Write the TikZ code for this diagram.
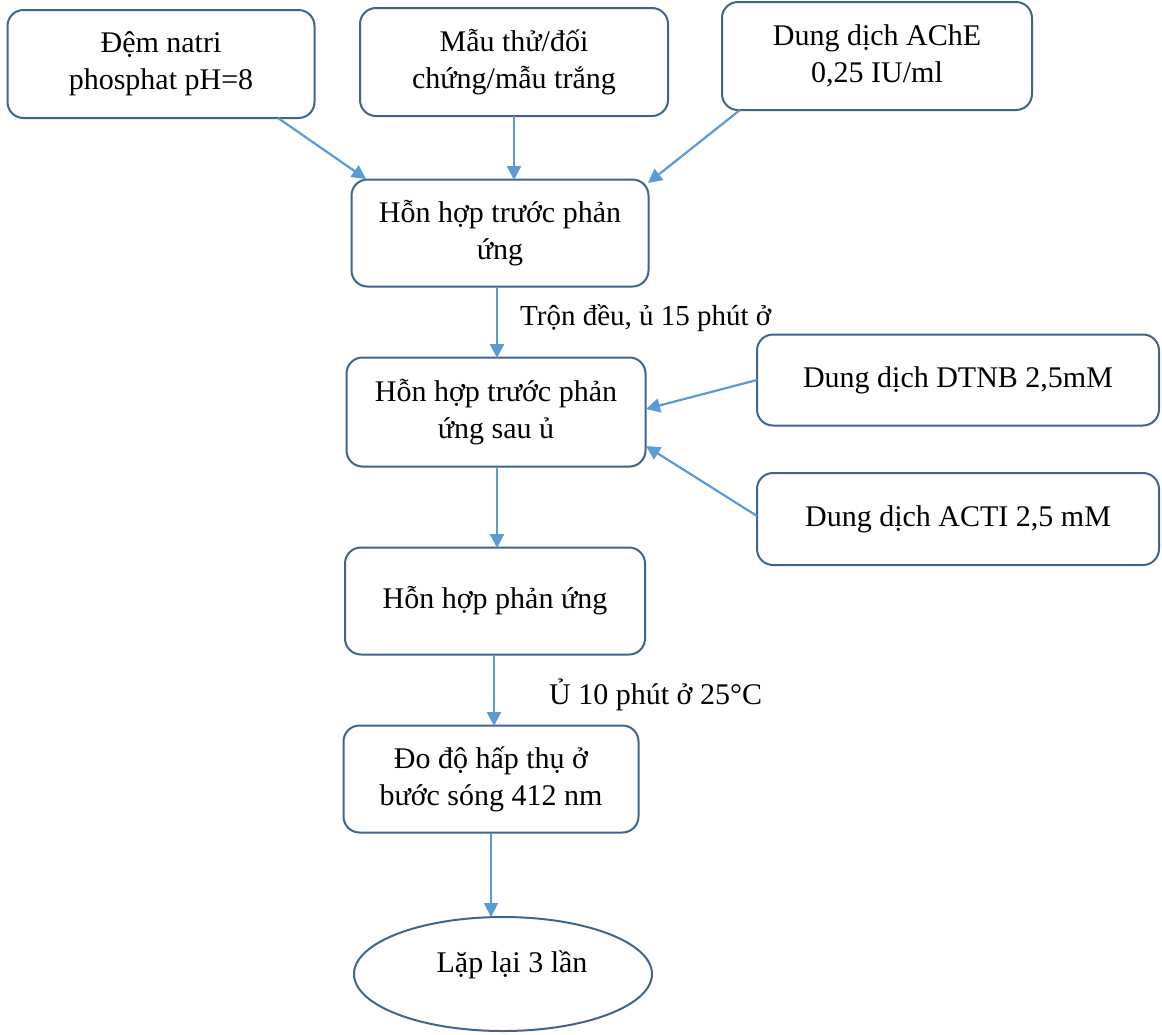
\documentclass[tikz,border=0pt]{standalone}
\usepackage{fontspec}
\setmainfont{Liberation Serif}
\usetikzlibrary{arrows.meta,shapes.geometric}
\definecolor{boxline}{RGB}{65,100,140}
\definecolor{arrowblue}{RGB}{91,155,213}
\begin{document}
\begin{tikzpicture}[x=1pt,y=-1pt,
  every node/.style={font=\fontsize{30}{37}\selectfont},
  box/.style={draw=boxline, line width=2pt, rounded corners=16pt, align=center, inner sep=0pt, fill=white},
  conn/.style={draw=arrowblue, line width=2.2pt, -{Triangle[length=14pt,width=14pt]}},
  lab/.style={anchor=west, inner sep=0pt}]
\useasboundingbox (0,0) rectangle (1162,1034);
\node[box, minimum width=307pt, minimum height=108pt] (b1) at (161,64) {Đệm natri\\phosphat pH=8};
\node[box, minimum width=308pt, minimum height=108pt] (b2) at (514,62) {Mẫu thử/đối\\chứng/mẫu trắng};
\node[box, minimum width=310pt, minimum height=108pt] (b3) at (877,56) {Dung dịch AChE\\0,25 IU/ml};
\node[box, minimum width=297pt, minimum height=107pt] (b4) at (500,233) {Hỗn hợp trước phản\\ứng};
\node[box, minimum width=299pt, minimum height=109pt] (b5) at (496,412) {Hỗn hợp trước phản\\ứng sau ủ};
\node[box, minimum width=402pt, minimum height=91pt] (b6) at (958,380) {Dung dịch DTNB 2,5mM};
\node[box, minimum width=402pt, minimum height=92pt] (b7) at (958,519) {Dung dịch ACTI 2,5 mM};
\node[box, minimum width=300pt, minimum height=107pt] (b8) at (495,601) {Hỗn hợp phản ứng};
\node[box, minimum width=295pt, minimum height=107pt] (b9) at (491,779) {Đo độ hấp thụ ở\\bước sóng 412 nm};
\node[draw=boxline, line width=2pt, ellipse, inner sep=0pt, minimum width=298pt, minimum height=114pt] (b10) at (503,974) {};
\node at (512,965) (t10) {Lặp lại 3 lần};
\coordinate (a1s) at (278,118);
\coordinate (a1e) at (366,179);
\coordinate (a2s) at (514,116);
\coordinate (a2e) at (514,180);
\coordinate (a3s) at (740,110);
\coordinate (a3e) at (648,183);
\coordinate (a4s) at (497,287);
\coordinate (a4e) at (497,358);
\coordinate (a6s) at (757,380);
\coordinate (a6e) at (646,409);
\coordinate (a7s) at (757,516);
\coordinate (a7e) at (646,446);
\coordinate (a5s) at (497,467);
\coordinate (a5e) at (497,548);
\coordinate (a8s) at (494,655);
\coordinate (a8e) at (494,726);
\coordinate (a9s) at (491,833);
\coordinate (a9e) at (491,917);
\draw[conn] (a1s) -- (a1e);
\draw[conn] (a2s) -- (a2e);
\draw[conn] (a3s) -- (a3e);
\draw[conn] (a4s) -- (a4e);
\draw[conn] (a6s) -- (a6e);
\draw[conn] (a7s) -- (a7e);
\draw[conn] (a5s) -- (a5e);
\draw[conn] (a8s) -- (a8e);
\draw[conn] (a9s) -- (a9e);
\node[lab] (l1) at (520,318) {\fontsize{29}{37}\selectfont Trộn đều, ủ 15 phút ở};
\node[lab] (l2) at (549,695) {Ủ 10 phút ở 25°C};
\end{tikzpicture}
\end{document}
